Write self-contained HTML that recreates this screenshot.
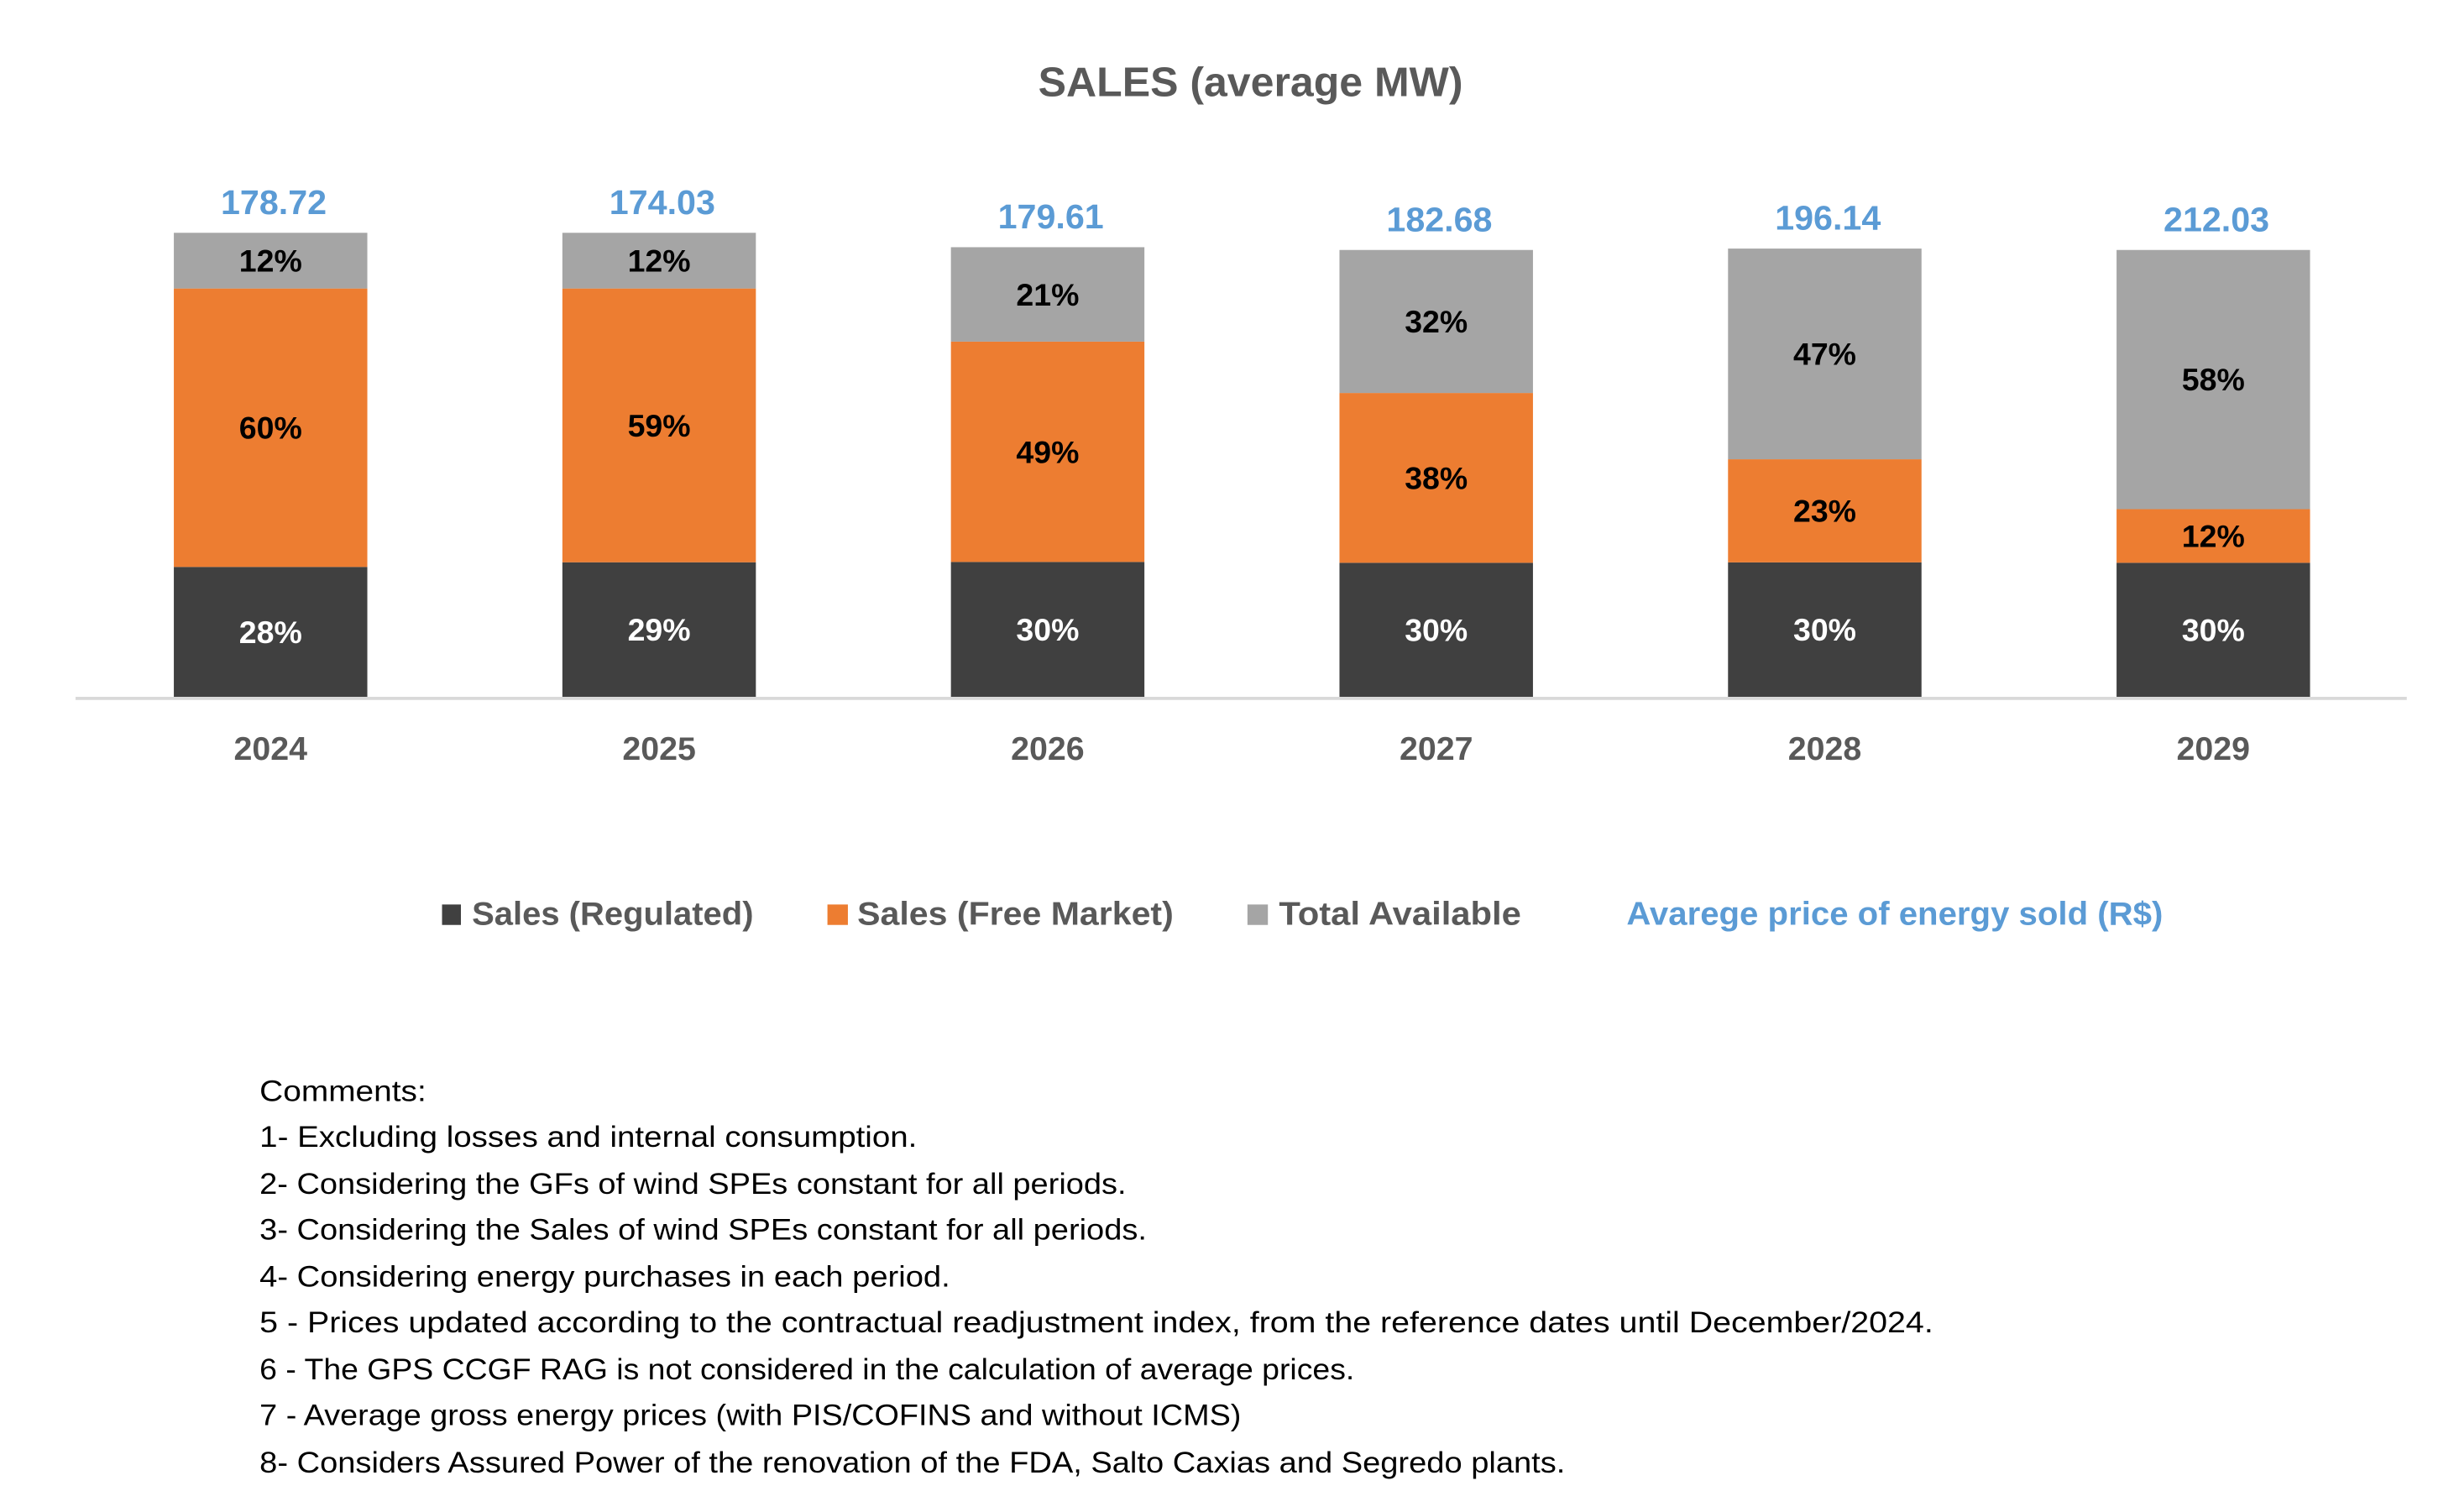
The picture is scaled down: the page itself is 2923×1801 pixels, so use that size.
<!DOCTYPE html>
<html><head><meta charset="utf-8"><style>
html,body{margin:0;padding:0;background:#fff;}
svg{display:block;}
text{font-family:"Liberation Sans",sans-serif;}
</style></head><body>
<svg id="chart" width="2923" height="1801" viewBox="0 0 1560 961.2" xmlns="http://www.w3.org/2000/svg">
<text x="795" y="61" text-anchor="middle" font-size="26" font-weight="bold" fill="#595959" textLength="270" lengthAdjust="spacingAndGlyphs">SALES (average MW)</text>
<g id="bars"></g>
<line x1="48" y1="444" x2="1530" y2="444" stroke="#d9d9d9" stroke-width="2"/>
<g>
<rect x="281" y="575" width="12" height="13" fill="#404040"/>
<text x="300" y="588" font-size="21" font-weight="bold" fill="#595959" textLength="179" lengthAdjust="spacingAndGlyphs">Sales (Regulated)</text>
<rect x="526" y="575" width="13" height="13" fill="#ED7D31"/>
<text x="545" y="588" font-size="21" font-weight="bold" fill="#595959" textLength="201" lengthAdjust="spacingAndGlyphs">Sales (Free Market)</text>
<rect x="793" y="575" width="13" height="13" fill="#A5A5A5"/>
<text x="813" y="588" font-size="21" font-weight="bold" fill="#595959" textLength="154" lengthAdjust="spacingAndGlyphs">Total Available</text>
<text x="1034" y="588" font-size="21" font-weight="bold" fill="#5B9BD5" textLength="341" lengthAdjust="spacingAndGlyphs">Avarege price of energy sold (R$)</text>
</g>
<g font-size="19" fill="#000">
<text x="165" y="700" textLength="106" lengthAdjust="spacingAndGlyphs">Comments:</text>
<text x="165" y="729" textLength="418" lengthAdjust="spacingAndGlyphs">1- Excluding losses and internal consumption.</text>
<text x="165" y="759" textLength="551" lengthAdjust="spacingAndGlyphs">2- Considering the GFs of wind SPEs constant for all periods.</text>
<text x="165" y="788" textLength="564" lengthAdjust="spacingAndGlyphs">3- Considering the Sales of wind SPEs constant for all periods.</text>
<text x="165" y="818" textLength="439" lengthAdjust="spacingAndGlyphs">4- Considering energy purchases in each period.</text>
<text x="165" y="847" textLength="1064" lengthAdjust="spacingAndGlyphs">5 - Prices updated according to the contractual readjustment index, from the reference dates until December/2024.</text>
<text x="165" y="877" textLength="696" lengthAdjust="spacingAndGlyphs">6 - The GPS CCGF RAG is not considered in the calculation of average prices.</text>
<text x="165" y="906" textLength="624" lengthAdjust="spacingAndGlyphs">7 - Average gross energy prices (with PIS/COFINS and without ICMS)</text>
<text x="165" y="936" textLength="830" lengthAdjust="spacingAndGlyphs">8- Considers Assured Power of the renovation of the FDA, Salto Caxias and Segredo plants.</text>
</g>
</svg>
<script>
const years = ["2024","2025","2026","2027","2028","2029"];
const totals = [100, 100, 96.9, 96.3, 96.6, 96.3];
const regulated = [28, 29, 30, 30, 30, 30];
const freeMarket = [60, 59, 49, 38, 23, 12];
const available = [12, 12, 21, 32, 47, 58];
const prices = ["178.72","174.03","179.61","182.68","196.14","212.03"];

const NS = "http://www.w3.org/2000/svg";
const g = document.getElementById("bars");
const x0 = 172, step = 247, bw = 123;
const yBase = 443, pxPerUnit = 2.95;
function xc(i){ return x0 + i*step; }
function yv(v){ return yBase - v*pxPerUnit; }
function mk(tag, attrs){ const e = document.createElementNS(NS, tag); for (const k in attrs) e.setAttribute(k, attrs[k]); g.appendChild(e); return e; }

const series = [
  {vals: regulated, color: "#404040", label: "#ffffff", key: "regulated"},
  {vals: freeMarket, color: "#ED7D31", label: "#000000", key: "free-market"},
  {vals: available, color: "#A5A5A5", label: "#000000", key: "available"}
];
years.forEach((yr, i) => {
  const sum = regulated[i] + freeMarket[i] + available[i];
  let acc = 0;
  series.forEach(s => {
    const v = s.vals[i] / sum * totals[i];
    const yTop = yv(acc + v), yBot = yv(acc);
    const r = mk("rect", {x: xc(i) - bw/2, y: yTop, width: bw, height: yBot - yTop, fill: s.color});
    
    
    const t = mk("text", {x: xc(i), y: (yTop + yBot)/2 + 7, "text-anchor": "middle", "font-size": "20", "font-weight": "bold", fill: s.label});
    
    
    t.textContent = s.vals[i] + "%";
    acc += v;
  });
  const p = mk("text", {x: xc(i) + 2, y: yv(totals[i]) - 12, "text-anchor": "middle", "font-size": "22", "font-weight": "bold", fill: "#5B9BD5"});
  
  
  p.textContent = prices[i];
  const c = mk("text", {x: xc(i), y: 483, "text-anchor": "middle", "font-size": "21", "font-weight": "bold", fill: "#595959"});
  
  
  c.textContent = yr;
});
</script>
</body></html>
